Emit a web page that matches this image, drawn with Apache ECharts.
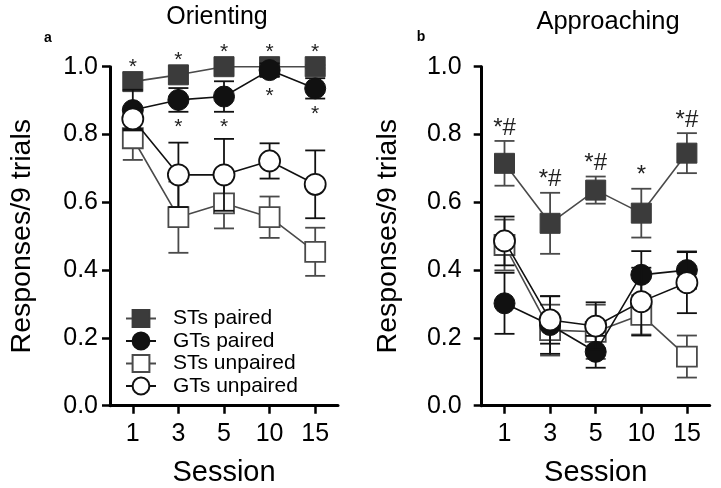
<!DOCTYPE html>
<html><head><meta charset="utf-8">
<script src="https://cdn.jsdelivr.net/npm/echarts@6/dist/echarts.min.js"></script>
<style>html,body{margin:0;padding:0;background:#fff}#c{width:721px;height:488px}</style>
</head><body><div id="c"></div><script>
// ---------- data ----------
const sessions = ['1', '3', '5', '10', '15'];
const seriesNames = ['STs paired', 'GTs paired', 'STs unpaired', 'GTs unpaired'];

// Panel a: Orienting
const orientSTpaired      = [0.956, 0.976, 1.000, 1.000, 1.000];
const orientSTpairedErr   = [0.025, 0.025, 0.005, 0.005, 0.005];
const orientGTpaired      = [0.872, 0.902, 0.912, 0.990, 0.936];
const orientGTpairedErr   = [0.060, 0.035, 0.045, 0.020, 0.030];
const orientSTunpaired    = [0.789, 0.556, 0.597, 0.556, 0.454];
const orientSTunpairedErr = [0.064, 0.105, 0.074, 0.061, 0.071];
const orientGTunpaired    = [0.846, 0.681, 0.681, 0.722, 0.653];
const orientGTunpairedErr = [0.030, 0.095, 0.106, 0.052, 0.100];
const orientMarksAbove    = ['*', '*', '*', '*', '*'];   // above STs paired
const orientMarksBelow    = ['', '*', '*', '*', '*'];    // below GTs paired

// Panel b: Approaching
const approachSTpaired      = [0.715, 0.538, 0.636, 0.568, 0.745];
const approachSTpairedErr   = [0.066, 0.090, 0.040, 0.072, 0.059];
const approachGTpaired      = [0.302, 0.238, 0.159, 0.386, 0.400];
const approachGTpairedErr   = [0.090, 0.085, 0.047, 0.070, 0.055];
const approachSTunpaired    = [0.474, 0.223, 0.218, 0.268, 0.145];
const approachSTunpairedErr = [0.075, 0.075, 0.080, 0.058, 0.062];
const approachGTunpaired    = [0.486, 0.253, 0.235, 0.307, 0.363];
const approachGTunpairedErr = [0.072, 0.070, 0.070, 0.100, 0.090];
const approachMarksAbove    = ['*#', '*#', '*#', '*', '*#']; // above STs paired

// ---------- styles ----------
const FONT = 'Liberation Sans, Arial, Helvetica, sans-serif';
const ST_LINE = '#4a4a4a';
const ST_FILL = '#3b3b3b';
const GT = '#111111';

function errSeries(gi, vals, errs, color, z) {
  return {
    type: 'custom', xAxisIndex: gi, yAxisIndex: gi, z: z, silent: true,
    data: vals.map((v, i) => [i, v, errs[i]]),
    encode: { x: 0, y: 1 },
    renderItem: function (params, api) {
      const i = api.value(0), v = api.value(1), e = api.value(2);
      const x = api.coord([i, v])[0];
      const yt = api.coord([i, v + e])[1];
      const yb = api.coord([i, v - e])[1];
      const hw = 10;
      const st = { stroke: color, lineWidth: 1.8 };
      return { type: 'group', children: [
        { type: 'line', shape: { x1: x, y1: yt, x2: x, y2: yb }, style: st },
        { type: 'line', shape: { x1: x - hw, y1: yt, x2: x + hw, y2: yt }, style: st },
        { type: 'line', shape: { x1: x - hw, y1: yb, x2: x + hw, y2: yb }, style: st }
      ]};
    }
  };
}

function lineSeries(gi, name, vals, opt) {
  return {
    type: 'line', name: name, xAxisIndex: gi, yAxisIndex: gi, z: opt.z,
    data: vals, symbol: opt.symbol, symbolSize: opt.size, showSymbol: true,
    lineStyle: { color: opt.line, width: 1.6 },
    itemStyle: { color: opt.fill, borderColor: opt.border, borderWidth: opt.bw },
    emphasis: { disabled: true }, animation: false
  };
}

// text annotations anchored to a series
function markSeries(gi, vals, errs, texts, mode, fontSize) {
  return {
    type: 'custom', xAxisIndex: gi, yAxisIndex: gi, z: 20, silent: true,
    data: vals.map((v, i) => [i, v, errs[i]]),
    encode: { x: 0, y: 1 },
    renderItem: function (params, api) {
      const t = texts[params.dataIndex];
      if (!t) return null;
      const i = api.value(0), v = api.value(1), e = api.value(2);
      const c = api.coord([i, v]);
      let y;
      if (mode === 'aboveMarker') {
        y = c[1] - 14.5;
      } else if (mode === 'belowErr') {
        const yb = api.coord([i, v - e])[1];
        y = Math.max(yb, c[1] + 10.5) + 11 + 4.6;
      } else { // aboveErr
        const yt = api.coord([i, v + e])[1];
        y = yt - 13;
      }
      return { type: 'text', style: { text: t, x: c[0], y: y, align: 'center', verticalAlign: 'middle',
        font: fontSize + 'px ' + FONT, fill: '#222' } };
    }
  };
}

function panelSeries(gi, d) {
  return [
    errSeries(gi, d.stp, d.stpE, ST_LINE, 1),
    lineSeries(gi, 'STs paired', d.stp, { z: 2, symbol: 'rect', size: 20, line: ST_LINE, fill: ST_FILL, border: ST_FILL, bw: 1 }),
    errSeries(gi, d.stu, d.stuE, ST_LINE, 3),
    lineSeries(gi, 'STs unpaired', d.stu, { z: 4, symbol: 'rect', size: 20, line: ST_LINE, fill: '#ffffff', border: ST_LINE, bw: 1.8 }),
    errSeries(gi, d.gtp, d.gtpE, GT, 5),
    lineSeries(gi, 'GTs paired', d.gtp, { z: 6, symbol: 'circle', size: 21, line: GT, fill: GT, border: GT, bw: 1 }),
    errSeries(gi, d.gtu, d.gtuE, GT, 7),
    lineSeries(gi, 'GTs unpaired', d.gtu, { z: 8, symbol: 'circle', size: 21, line: GT, fill: '#ffffff', border: GT, bw: 1.8 })
  ];
}

function xAxisCfg(gi) {
  return {
    type: 'category', gridIndex: gi, data: sessions, boundaryGap: true,
    axisLine: { show: true, lineStyle: { color: '#000', width: 3 } },
    axisTick: { show: true, alignWithLabel: true, length: 8, lineStyle: { color: '#000', width: 2.5 } },
    axisLabel: { fontSize: 25, color: '#000', fontFamily: FONT, margin: 16 },
    name: 'Session', nameLocation: 'middle', nameGap: 53,
    nameTextStyle: { fontSize: 29, color: '#000', fontFamily: FONT },
    splitLine: { show: false }
  };
}
function yAxisCfg(gi, margin, nameGap) {
  return {
    type: 'value', gridIndex: gi, min: 0, max: 1, interval: 0.2,
    axisLine: { show: true, lineStyle: { color: '#000', width: 3 } },
    axisTick: { show: true, length: 8, lineStyle: { color: '#000', width: 2.5 } },
    axisLabel: { fontSize: 25, color: '#000', fontFamily: FONT, margin: margin, formatter: v => v.toFixed(1) },
    splitLine: { show: false },
    name: 'Responses/9 trials', nameLocation: 'middle', nameGap: nameGap,
    nameTextStyle: { fontSize: 28.5, color: '#000', fontFamily: FONT }
  };
}

const A = { stp: orientSTpaired, stpE: orientSTpairedErr, gtp: orientGTpaired, gtpE: orientGTpairedErr,
            stu: orientSTunpaired, stuE: orientSTunpairedErr, gtu: orientGTunpaired, gtuE: orientGTunpairedErr };
const B = { stp: approachSTpaired, stpE: approachSTpairedErr, gtp: approachGTpaired, gtpE: approachGTpairedErr,
            stu: approachSTunpaired, stuE: approachSTunpairedErr, gtu: approachGTunpaired, gtuE: approachGTunpairedErr };

const option = {
  backgroundColor: '#ffffff',
  animation: false,
  grid: [
    { left: 110, top: 66.7, width: 228, height: 339, containLabel: false, outerBoundsMode: 'none' },
    { left: 481.7, top: 66.7, width: 228, height: 339, containLabel: false, outerBoundsMode: 'none' }
  ],
  xAxis: [xAxisCfg(0), xAxisCfg(1)],
  yAxis: [yAxisCfg(0, 12, 73), yAxisCfg(1, 20, 79)],
  legend: {
    data: seriesNames, orient: 'vertical', left: 125, top: 308,
    itemWidth: 30, itemHeight: 21, itemGap: 1.5, padding: 0,
    selectedMode: false,
    textStyle: { fontSize: 21, color: '#000', fontFamily: FONT, lineHeight: 21, padding: [0, 0, 0, 12] }
  },
  graphic: [
    { type: 'text', style: { text: 'Orienting', x: 217, y: 17.6, align: 'center', verticalAlign: 'middle', font: '25px ' + FONT, fill: '#000' } },
    { type: 'text', style: { text: 'Approaching', x: 608, y: 21.6, align: 'center', verticalAlign: 'middle', font: '25.5px ' + FONT, fill: '#000' } },
    { type: 'text', style: { text: 'a', x: 48, y: 38, align: 'center', verticalAlign: 'middle', font: 'bold 14px ' + FONT, fill: '#000' } },
    { type: 'text', style: { text: 'b', x: 421, y: 37, align: 'center', verticalAlign: 'middle', font: 'bold 14px ' + FONT, fill: '#000' } }
  ],
  series: [].concat(
    panelSeries(0, A),
    panelSeries(1, B),
    [
      markSeries(0, orientSTpaired, orientSTpairedErr, orientMarksAbove, 'aboveMarker', 21),
      markSeries(0, orientGTpaired, orientGTpairedErr, orientMarksBelow, 'belowErr', 21),
      markSeries(1, approachSTpaired, approachSTpairedErr, approachMarksAbove, 'aboveErr', 24)
    ]
  )
};

const chart = echarts.init(document.getElementById('c'), null, { renderer: 'canvas' });
chart.setOption(option);
</script></body></html>
